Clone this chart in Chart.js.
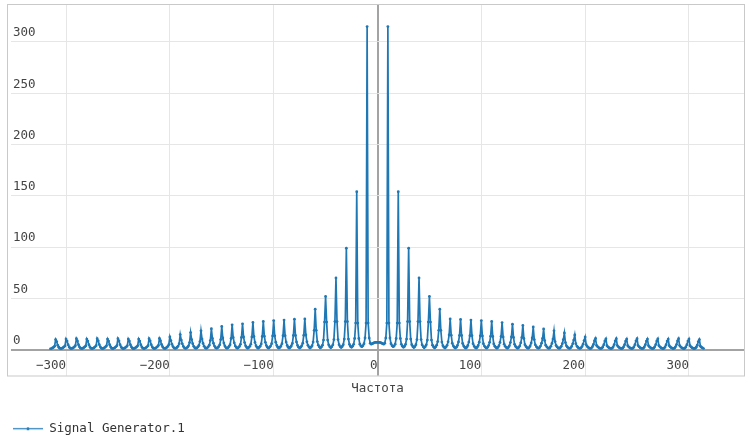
<!DOCTYPE html>
<html>
<head>
<meta charset="utf-8">
<script src="https://cdn.jsdelivr.net/npm/chart.js@4/dist/chart.umd.min.js"></script>
<style>
  html, body { margin: 0; padding: 0; background: #ffffff; }
  #wrap { width: 750px; height: 447px; position: relative; }
</style>
</head>
<body>
<div id="wrap"><canvas id="c"></canvas></div>
<script>
// ---- data ----
const seriesName = 'Signal Generator.1';
const xTitle = 'Частота';
const freqStart = -315;   // first sample frequency
const freqStep = 1;       // sample spacing
const xTicks = [-300, -200, -100, 0, 100, 200, 300];
const yTicks = [0, 50, 100, 150, 200, 250, 300];

// magnitudes, 10 samples per row (row = one harmonic period), negative frequencies
const leftSide = [
  0.8, 1.2, 1.8, 2.5, 3.5, 10.0, 8.0, 4.5, 2.5, 1.5,
  1.0, 1.3, 2.0, 2.8, 3.8, 10.5, 8.5, 5.0, 2.8, 1.6,
  1.0, 1.4, 2.0, 2.8, 4.0, 10.8, 8.6, 5.0, 2.8, 1.6,
  1.0, 1.3, 2.0, 2.8, 3.8, 10.5, 8.5, 5.0, 2.8, 1.5,
  1.0, 1.4, 2.0, 2.9, 4.0, 10.8, 8.7, 5.1, 2.9, 1.6,
  1.0, 1.3, 2.0, 2.8, 3.9, 10.5, 8.5, 5.0, 2.8, 1.5,
  1.0, 1.4, 2.1, 2.9, 4.0, 10.8, 8.6, 5.1, 2.9, 1.6,
  1.0, 1.3, 2.0, 2.8, 3.9, 10.5, 8.5, 5.0, 2.8, 1.5,
  1.0, 1.3, 2.0, 2.8, 3.9, 10.5, 8.5, 5.0, 2.8, 1.6,
  1.0, 1.4, 2.1, 2.9, 4.0, 10.8, 8.7, 5.1, 2.9, 1.6,
  1.1, 1.5, 2.2, 3.0, 4.3, 11.0, 8.8, 5.2, 3.0, 1.7,
  1.1, 1.5, 2.3, 3.3, 5.0, 12.5, 9.0, 5.5, 3.1, 1.8,
  1.2, 1.6, 2.5, 3.6, 6.0, 14.8, 9.5, 5.8, 3.3, 1.9,
  1.2, 1.7, 2.6, 3.9, 7.0, 16.8, 10.0, 6.0, 3.4, 2.0,
  1.3, 1.8, 2.8, 4.2, 8.0, 18.5, 10.5, 6.2, 3.5, 2.0,
  1.3, 1.9, 2.9, 4.5, 9.0, 20.5, 11.0, 6.4, 3.6, 2.1,
  1.4, 2.0, 3.0, 4.8, 10.0, 22.7, 11.5, 6.6, 3.7, 2.2,
  1.4, 2.1, 3.2, 5.0, 11.0, 24.3, 12.0, 6.8, 3.8, 2.3,
  1.5, 2.2, 3.3, 5.3, 12.0, 25.3, 12.5, 7.0, 3.9, 2.3,
  1.5, 2.3, 3.4, 5.5, 12.5, 26.6, 13.0, 7.2, 4.0, 2.4,
  1.5, 2.3, 3.5, 5.7, 13.0, 27.6, 13.3, 7.3, 4.1, 2.4,
  1.6, 2.4, 3.6, 5.9, 13.5, 28.5, 13.6, 7.4, 4.2, 2.5,
  1.6, 2.4, 3.7, 6.0, 13.8, 29.0, 13.8, 7.5, 4.2, 2.5,
  1.6, 2.5, 3.8, 6.2, 14.0, 29.8, 14.0, 7.6, 4.3, 2.6,
  1.7, 2.5, 3.9, 6.4, 14.2, 30.0, 14.5, 7.8, 4.4, 2.7,
  1.7, 2.6, 4.0, 7.5, 19.0, 39.6, 19.0, 8.0, 4.5, 2.8,
  1.8, 2.8, 4.5, 9.5, 27.0, 52.0, 27.0, 9.5, 4.8, 3.0,
  2.0, 3.0, 4.8, 10.0, 27.5, 70.0, 27.5, 10.0, 5.0, 3.1,
  2.2, 3.2, 5.0, 10.5, 27.5, 99.0, 27.5, 10.5, 5.2, 3.3,
  2.5, 3.5, 5.3, 11.0, 26.0, 154.0, 26.0, 11.0, 5.5, 3.6,
  3.0, 4.0, 6.0, 11.5, 26.0, 315.0, 26.0, 11.5, 6.5, 5.5
];
// samples around zero frequency
const center = [6.0, 6.5, 7.0, 7.2, 7.3, 7.3, 7.3, 7.2, 7.0, 6.5];
// positive frequencies
const rightSide = [
  6.0, 5.5, 6.5, 11.5, 26.0, 315.0, 26.0, 11.5, 6.0, 4.0,
  3.0, 3.6, 5.5, 11.0, 26.0, 154.0, 26.0, 11.0, 5.3, 3.5,
  2.5, 3.3, 5.2, 10.5, 27.5, 99.0, 27.5, 10.5, 5.0, 3.2,
  2.2, 3.1, 5.0, 10.0, 27.5, 70.0, 27.5, 10.0, 4.8, 3.0,
  2.0, 3.0, 4.8, 9.5, 27.0, 52.0, 27.0, 9.5, 4.5, 2.8,
  1.8, 2.8, 4.5, 8.0, 19.0, 39.6, 19.0, 7.5, 4.0, 2.6,
  1.7, 2.7, 4.4, 7.8, 14.5, 30.0, 14.2, 6.4, 3.9, 2.5,
  1.7, 2.6, 4.3, 7.6, 14.0, 29.6, 14.0, 6.2, 3.8, 2.5,
  1.6, 2.5, 4.2, 7.5, 13.8, 29.0, 13.8, 6.0, 3.7, 2.4,
  1.6, 2.5, 4.2, 7.4, 13.6, 28.5, 13.5, 5.9, 3.6, 2.4,
  1.6, 2.4, 4.1, 7.3, 13.3, 27.6, 13.0, 5.7, 3.5, 2.3,
  1.5, 2.4, 4.0, 7.2, 13.0, 26.5, 12.5, 5.5, 3.4, 2.3,
  1.5, 2.3, 3.9, 7.0, 12.5, 25.0, 12.0, 5.3, 3.3, 2.2,
  1.5, 2.3, 3.8, 6.8, 12.0, 23.8, 11.0, 5.0, 3.2, 2.1,
  1.4, 2.2, 3.7, 6.6, 11.5, 22.2, 10.0, 4.8, 3.0, 2.0,
  1.4, 2.1, 3.6, 6.4, 11.0, 20.3, 9.0, 4.5, 2.9, 1.9,
  1.3, 2.0, 3.5, 6.2, 10.5, 18.5, 8.0, 4.2, 2.8, 1.8,
  1.3, 2.0, 3.4, 6.0, 10.0, 16.4, 7.0, 3.9, 2.6, 1.7,
  1.2, 1.9, 3.3, 5.8, 9.5, 14.5, 6.0, 3.6, 2.5, 1.6,
  1.2, 1.8, 3.1, 5.5, 9.0, 12.4, 5.0, 3.3, 2.3, 1.5,
  1.1, 1.7, 3.0, 5.2, 8.8, 11.0, 4.3, 3.0, 2.2, 1.5,
  1.0, 1.6, 2.8, 5.0, 8.6, 10.7, 4.0, 2.8, 2.0, 1.4,
  1.0, 1.6, 2.9, 5.1, 8.7, 10.8, 4.1, 2.9, 2.0, 1.4,
  1.0, 1.5, 2.8, 5.0, 8.5, 10.5, 4.0, 2.8, 2.0, 1.4,
  1.0, 1.6, 2.9, 5.1, 8.7, 10.8, 4.1, 2.9, 2.0, 1.4,
  1.0, 1.5, 2.8, 5.0, 8.5, 10.5, 4.0, 2.8, 2.0, 1.4,
  1.0, 1.6, 2.9, 5.1, 8.6, 10.7, 4.1, 2.9, 2.0, 1.4,
  1.0, 1.5, 2.8, 5.0, 8.5, 10.5, 4.0, 2.8, 2.0, 1.4,
  1.0, 1.6, 2.9, 5.1, 8.7, 10.8, 4.1, 2.9, 2.0, 1.4,
  1.0, 1.5, 2.8, 5.0, 8.5, 10.5, 4.0, 2.8, 2.0, 1.4,
  1.0, 1.5, 2.5, 4.5, 8.0, 10.0, 3.5, 2.5, 1.8, 1.2
];

// ---- build dataset from arrays ----
const magnitudes = leftSide.concat(center, rightSide);
const points = magnitudes.map((v, i) => ({ x: freqStart + i * freqStep, y: v }));

const BLUE = '#1f77b4';
const FONT = { family: "'DejaVu Sans Mono', 'Liberation Mono', monospace", size: 12.5 };

// legend symbol: line with a small dot
const sym = document.createElement('canvas');
sym.width = 30; sym.height = 5;
(function () {
  const g = sym.getContext('2d');
  g.strokeStyle = BLUE; g.lineWidth = 1.2;
  g.beginPath(); g.moveTo(0, 2.5); g.lineTo(30, 2.5); g.stroke();
  g.fillStyle = BLUE;
  g.beginPath(); g.arc(15, 2.5, 1.5, 0, Math.PI * 2); g.fill();
})();

const frame = {
  id: 'frame',
  afterDraw(chart) {
    const { ctx } = chart;
    ctx.save();
    ctx.strokeStyle = '#c9c9c9';
    ctx.lineWidth = 1;
    ctx.strokeRect(7.5, 4.5, 737, 371.5);
    ctx.restore();
  }
};

const minus = v => (v < 0 ? '\u2212' + Math.abs(v) : String(v));

new Chart(document.getElementById('c'), {
  type: 'line',
  data: {
    datasets: [{
      label: seriesName,
      data: points,
      borderColor: BLUE,
      backgroundColor: BLUE,
      borderWidth: 1.7,
      pointStyle: 'circle',
      pointRadius: 1.4,
      pointBorderWidth: 0,
      pointBackgroundColor: BLUE,
      tension: 0,
      fill: false
    }]
  },
  options: {
    responsive: true,
    maintainAspectRatio: false,
    animation: false,
    layout: { padding: { left: 7, right: 6, top: 5, bottom: 2 } },
    plugins: {
      legend: {
        position: 'bottom',
        align: 'start',
        labels: {
          usePointStyle: true,
          pointStyleWidth: 30,
          padding: 6,
          color: '#333',
          font: FONT,
          generateLabels(chart) {
            return [{
              text: seriesName,
              pointStyle: sym,
              fillStyle: BLUE,
              strokeStyle: BLUE,
              lineWidth: 0,
              hidden: false,
              datasetIndex: 0,
              fontColor: '#333'
            }];
          }
        }
      },
      tooltip: { enabled: false }
    },
    scales: {
      x: {
        type: 'linear',
        min: -353,
        max: 353,
        afterBuildTicks(scale) { scale.ticks = xTicks.map(v => ({ value: v })); },
        afterFit(scale) { scale.paddingLeft = 0; scale.paddingRight = 0; },
        ticks: {
          align: 'end',
          padding: -18,
          color: '#444',
          font: FONT,
          maxRotation: 0,
          autoSkip: false,
          callback: minus
        },
        grid: {
          drawTicks: true,
          tickLength: 26,
          color: c => (c.tick && c.tick.value === 0 ? '#a3a3a3' : '#e6e6e6'),
          lineWidth: c => (c.tick && c.tick.value === 0 ? 2 : 1)
        },
        border: { display: false },
        title: {
          display: true,
          text: xTitle,
          color: '#444',
          font: FONT,
          padding: { top: 26, bottom: 20.7 }
        }
      },
      y: {
        type: 'linear',
        min: 0,
        max: 336,
        afterBuildTicks(scale) { scale.ticks = yTicks.map(v => ({ value: v })); },
        afterFit(scale) { scale.paddingTop = 0; scale.paddingBottom = 0; },
        ticks: {
          mirror: true,
          padding: 2,
          labelOffset: -9,
          color: '#444',
          font: FONT
        },
        grid: {
          drawTicks: false,
          color: c => (c.tick && c.tick.value === 0 ? '#a3a3a3' : '#e6e6e6'),
          lineWidth: c => (c.tick && c.tick.value === 0 ? 2 : 1)
        },
        border: { display: false }
      }
    }
  },
  plugins: [frame]
});
</script>
</body>
</html>
